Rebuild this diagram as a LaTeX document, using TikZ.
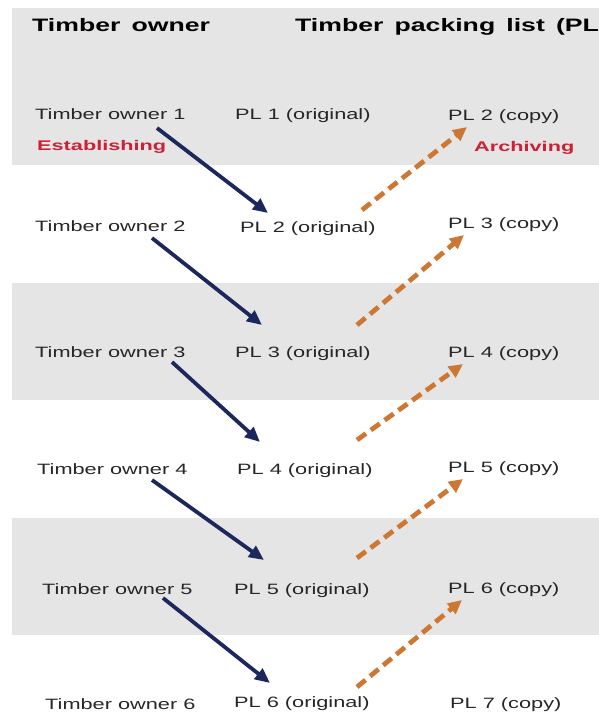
\documentclass[tikz,border=0pt]{standalone}
\usepackage{fontspec}
\usetikzlibrary{arrows.meta}
\newfontfamily\rowfont{Liberation Sans}[FakeStretch=1.45]
\newfontfamily\headfont{Liberation Sans}[FakeStretch=1.48,WordSpace=1.5]
\newfontfamily\tagfont{Liberation Sans}[FakeStretch=1.55]
\definecolor{bandgray}{RGB}{229,229,229}
\definecolor{navy}{RGB}{28,40,92}
\definecolor{copper}{RGB}{204,120,52}
\definecolor{tagred}{RGB}{204,32,52}
\tikzset{
  band/.style={fill=bandgray, draw=none},
  cell/.style={inner sep=0pt, anchor=base west, text=black!85, font=\rowfont\fontsize{15}{18}\selectfont},
  head/.style={inner sep=0pt, anchor=base west, text=black, font=\headfont\bfseries\fontsize{18}{21}\selectfont},
  tag/.style={inner sep=0pt, anchor=base west, text=tagred, font=\tagfont\bfseries\fontsize{14}{17}\selectfont},
  establish/.style={draw=navy, line width=3.8pt, -{Triangle[length=15pt,width=13pt]}},
  archive/.style={draw=copper, line width=4.8pt, dash pattern=on 11pt off 6pt, -{Triangle[length=14pt,width=13pt]}},
}
\begin{document}
\begin{tikzpicture}[x=1pt,y=-1pt]
\useasboundingbox (0,0) rectangle (599,713);
\clip (0,0) rectangle (599,713);

% shaded rows
\fill[band] (12,8) rectangle (599,165);
\fill[band] (12,283) rectangle (599,400);
\fill[band] (12,518) rectangle (599,635);

% column headings
\node[head] (hown) at (32,31) {Timber owner};
\node[head] (hpl) at (295,31) {Timber packing list (PL)};

% row 1
\node[cell] (o1) at (35,119) {Timber owner 1};
\node[cell] (p1) at (235,119) {PL 1 (original)};
\node[cell] (c1) at (448,120) {PL 2 (copy)};
\node[tag] (est) at (37,150) {Establishing};
\node[tag] (arc) at (474,151) {Archiving};

% row 2
\node[cell] (o2) at (35,231) {Timber owner 2};
\node[cell] (p2) at (240,232) {PL 2 (original)};
\node[cell] (c2) at (448,228) {PL 3 (copy)};

% row 3
\node[cell] (o3) at (35,357) {Timber owner 3};
\node[cell] (p3) at (235,357) {PL 3 (original)};
\node[cell] (c3) at (448,357) {PL 4 (copy)};

% row 4
\node[cell] (o4) at (37,474) {Timber owner 4};
\node[cell] (p4) at (237,474) {PL 4 (original)};
\node[cell] (c4) at (448,472) {PL 5 (copy)};

% row 5
\node[cell] (o5) at (42,594) {Timber owner 5};
\node[cell] (p5) at (234,594) {PL 5 (original)};
\node[cell] (c5) at (448,593) {PL 6 (copy)};

% row 6
\node[cell] (o6) at (45,709) {Timber owner 6};
\node[cell] (p6) at (234,707) {PL 6 (original)};
\node[cell] (c6) at (450,708) {PL 7 (copy)};

% establishing: each owner hands the list on to the next owner
\draw[establish] ([shift={(122,9)}]o1.base west) -- ([shift={(28,-19)}]p2.base west);
\draw[establish] ([shift={(117,7)}]o2.base west) -- ([shift={(27,-32)}]p3.base west);
\draw[establish] ([shift={(137,5)}]o3.base west) -- ([shift={(23,-32)}]p4.base west);
\draw[establish] ([shift={(115,6)}]o4.base west) -- ([shift={(30,-34)}]p5.base west);
\draw[establish] ([shift={(121,4)}]o5.base west) -- ([shift={(36,-24)}]p6.base west);

% archiving: each original is kept as a copy by the previous owner
\draw[archive] ([shift={(122,-22)}]p2.base west) -- ([shift={(19,7)}]c1.base west);
\draw[archive] ([shift={(122,-32)}]p3.base west) -- ([shift={(16,7)}]c2.base west);
\draw[archive] ([shift={(120,-34)}]p4.base west) -- ([shift={(15,7)}]c3.base west);
\draw[archive] ([shift={(123,-36)}]p5.base west) -- ([shift={(15,7)}]c4.base west);
\draw[archive] ([shift={(123,-20)}]p6.base west) -- ([shift={(14,7)}]c5.base west);
\end{tikzpicture}
\end{document}
